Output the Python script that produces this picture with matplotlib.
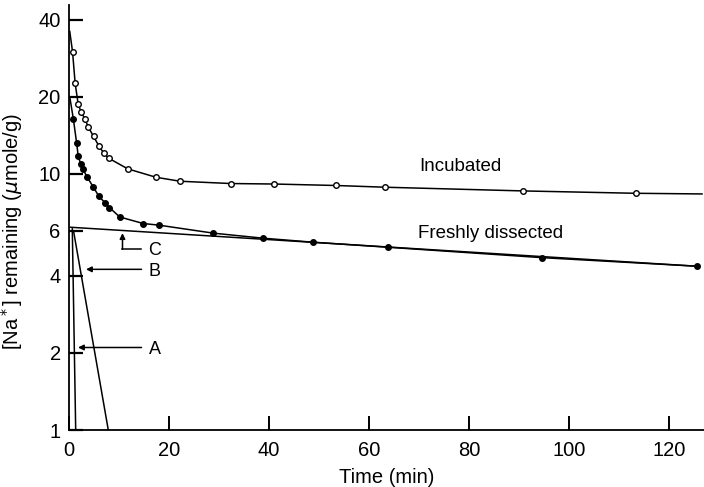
import matplotlib
matplotlib.use("Agg")
import matplotlib.pyplot as plt

# Incubated tissue (open circles)
inc_t = [0.71, 1.23, 1.84, 2.46, 3.17, 3.89, 4.91, 6.04, 6.96, 7.98, 11.77, 17.41,
         22.22, 32.36, 40.96, 53.35, 63.28, 90.83, 113.35]
inc_y = [30.0, 22.6, 18.7, 17.4, 16.4, 15.2, 14.0, 12.8, 12.05, 11.5, 10.46, 9.70,
         9.36, 9.17, 9.13, 9.01, 8.87, 8.58, 8.40]
inc_start = (0.15, 36.0)
inc_end = (126.6, 8.35)

# Freshly dissected tissue (filled circles)
fresh_t = [0.87, 1.53, 1.84, 2.35, 2.76, 3.58, 4.81, 5.94, 7.17, 8.09, 10.14, 14.85,
           17.92, 28.87, 38.81, 48.84, 63.9, 94.6, 125.6]
fresh_y = [16.4, 13.2, 11.75, 10.9, 10.46, 9.76, 8.92, 8.20, 7.72, 7.39, 6.79, 6.40,
           6.31, 5.87, 5.61, 5.41, 5.17, 4.71, 4.36]
fresh_start = (0.15, 20.0)

# Component lines
line_a_t = [0.66, 1.34]
line_a_y = [6.1, 1.0]
line_b_t = [0.9, 7.86]
line_b_y = [6.0, 1.0]
line_c_t = [0.3, 125.6]
line_c_y = [6.19, 4.36]

y_ticks = [1, 2, 4, 6, 10, 20, 40]
x_ticks = [0, 20, 40, 60, 80, 100, 120]

plt.rcParams["font.family"] = ["Liberation Sans", "DejaVu Sans"]

fig = plt.figure(figsize=(7.04, 4.87), dpi=100)
ax = fig.add_axes([0.098, 0.117, 0.902, 0.873])

lw = 1.1
ax.plot([inc_start[0]] + inc_t + [inc_end[0]], [inc_start[1]] + inc_y + [inc_end[1]],
        color="black", lw=lw)
ax.plot(inc_t, inc_y, "o", ms=4, mfc="white", mec="black", mew=1.0)
ax.plot([fresh_start[0]] + fresh_t, [fresh_start[1]] + fresh_y, color="black", lw=lw)
ax.plot(fresh_t, fresh_y, "o", ms=4, mfc="black", mec="black")

for t, y in ((line_a_t, line_a_y), (line_b_t, line_b_y), (line_c_t, line_c_y)):
    ax.plot(t, y, color="black", lw=lw)

arrow = dict(arrowstyle="-|>", color="black", lw=1.1, mutation_scale=8,
             shrinkA=0, shrinkB=0)
ax.annotate("", xy=(1.8, 2.10), xytext=(14.5, 2.10), arrowprops=arrow)
ax.annotate("", xy=(3.4, 4.24), xytext=(14.5, 4.24), arrowprops=arrow)
ax.annotate("", xy=(10.7, 5.87), xytext=(10.7, 5.08), arrowprops=arrow)
ax.plot([10.7, 14.5], [5.08, 5.08], color="black", lw=1.1)
ax.text(17.2, 2.07, "A", fontsize=13, ha="center", va="center")
ax.text(17.2, 4.15, "B", fontsize=13, ha="center", va="center")
ax.text(17.2, 5.0, "C", fontsize=13, ha="center", va="center")

ax.text(78.3, 10.65, "Incubated", fontsize=13.5, ha="center", va="center")
ax.text(84.3, 5.83, "Freshly dissected", fontsize=13.5, ha="center", va="center")

ax.set_yscale("log")
ax.set_xlim(0, 127)
ax.set_ylim(1, 45.7)
ax.set_yticks(y_ticks)
ax.set_yticklabels([str(v) for v in y_ticks])
ax.yaxis.set_minor_locator(matplotlib.ticker.NullLocator())
ax.set_xticks(x_ticks)
ax.tick_params(axis="y", direction="in", length=10, width=1.6, labelsize=14.5, pad=6)
ax.tick_params(axis="x", direction="in", length=10, width=1.4, labelsize=14.5, pad=8)

for side in ("top", "right"):
    ax.spines[side].set_visible(False)
for side in ("left", "bottom"):
    ax.spines[side].set_linewidth(1.3)

ax.set_xlabel("Time (min)", fontsize=14.5, labelpad=6)
ax.set_ylabel(r"[Na$^*$] remaining ($\mu$mole/g)", fontsize=14.5)
ax.yaxis.set_label_coords(-0.069, 0.467)

fig.savefig("out.png", dpi=100)
